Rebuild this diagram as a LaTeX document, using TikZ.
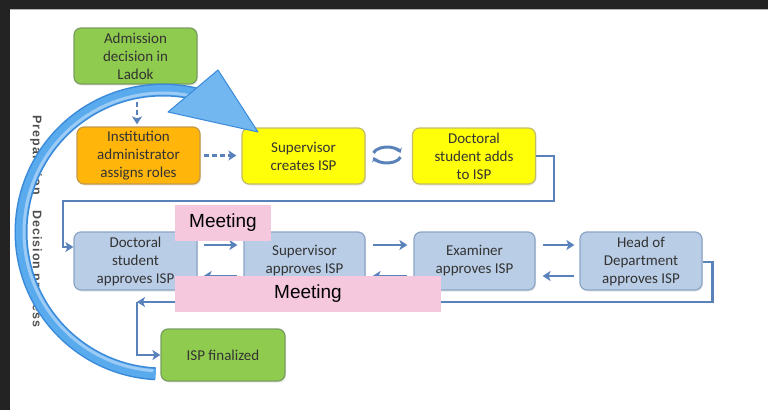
\documentclass[tikz,border=0pt]{standalone}
\usepackage{fontspec}
\setmainfont{Carlito}
\newfontfamily\meetfont{Liberation Sans}
\newfontfamily\sidefont[LetterSpace=8]{Liberation Sans}
\usetikzlibrary{arrows.meta,calc,shadows}

\definecolor{framedark}{HTML}{232323}
\definecolor{boxgreen}{HTML}{8FCB4E}
\definecolor{greenline}{HTML}{7A9E62}
\definecolor{boxorange}{HTML}{FFB50A}
\definecolor{orangeline}{HTML}{C3994A}
\definecolor{boxyellow}{HTML}{FFFF0A}
\definecolor{yellowline}{HTML}{C2BC66}
\definecolor{boxblue}{HTML}{B9CDE6}
\definecolor{blueline}{HTML}{8BA5C6}
\definecolor{connblue}{HTML}{5A82BA}
\definecolor{meetpink}{HTML}{F5C8DD}
\definecolor{bigblue}{HTML}{5AAAEE}
\definecolor{bigblueline}{HTML}{3A8ADA}
\definecolor{boxtext}{HTML}{333333}
\definecolor{sidegrey}{HTML}{4E4E4E}

\begin{document}
\begin{tikzpicture}[x=1pt,y=-1pt,
  box/.style={rounded corners=7pt, line width=1.2pt, minimum width=123pt,
    minimum height=56pt, align=center, text=boxtext,
    font=\fontsize{15}{18}\selectfont, inner sep=2pt,
    drop shadow={opacity=0.18, shadow xshift=1pt, shadow yshift=-1.5pt}},
  gbox/.style={box, fill=boxgreen, draw=greenline},
  obox/.style={box, fill=boxorange, draw=orangeline},
  ybox/.style={box, fill=boxyellow, draw=yellowline},
  bbox/.style={box, fill=boxblue, draw=blueline, minimum height=58pt},
  connline/.style={draw=connblue, line width=2.4pt},
  arr/.style={connline, -{Stealth[length=8pt,width=10pt,inset=2pt]}},
  dasharr/.style={arr, dash pattern=on 5pt off 3pt},
  iconarr/.style={draw=connblue, line width=3pt, -{Stealth[length=4.5pt,width=7pt]}},
  meet/.style={fill=meetpink, inner sep=0pt, text=black,
    font=\meetfont\fontsize{19}{22}\selectfont},
  side/.style={rotate=-90, text=sidegrey, inner sep=0pt,
    font=\sidefont\bfseries\fontsize{12.5}{14}\selectfont}]

\useasboundingbox (0,0) rectangle (768,410);
% screenshot frame
\fill[framedark] (0,0) rectangle (768,9);
\fill[framedark] (0,0) rectangle (10,410);
\draw[gray!60, line width=0.8pt] (10,9.6) -- (768,9.6);

% side labels
\node[side] (prep) at (36,155) {Preparation};
\node[side] (dec) at (36,269) {Decision process};

% boxes
\node[gbox] (adm) at (135.5,56) {Admission\\decision in\\Ladok};
\node[obox, minimum height=57pt] (inst) at (138.5,155.5) {Institution\\administrator\\assigns roles};
\node[ybox] (sup) at (303.5,156) {Supervisor\\creates ISP};
\node[ybox] (dsa) at (474,156) {Doctoral\\student adds\\to ISP};
\node[bbox] (dsp) at (135.5,261) {Doctoral\\student\\approves ISP};
\node[bbox, minimum width=121pt] (sap) at (304.5,261) {Supervisor\\approves ISP};
\node[bbox, minimum width=121pt] (exa) at (474.5,261) {Examiner\\approves ISP};
\node[bbox, minimum width=122pt] (hod) at (641,261) {Head of\\Department\\approves ISP};
\node[gbox, minimum width=124pt, minimum height=52pt] (fin) at (223,355) {ISP finalized};

% preparation connectors
\draw[dasharr, shorten <=1pt, shorten >=2pt] ([xshift=1.5pt]adm.south) -- ([xshift=1.5pt]adm.south |- inst.north);
\draw[dasharr, shorten <=3pt, shorten >=5pt] (inst.east) -- (inst.east -| sup.west);

% cycle icon
\coordinate (cyc) at (387,155);
\draw[iconarr] (cyc) ++(195:14 and 8) arc[start angle=195, end angle=345, x radius=14, y radius=8];
\draw[iconarr] (cyc) ++(15:14 and 8) arc[start angle=15, end angle=165, x radius=14, y radius=8];

% to decision process
\draw[arr] (dsa.east) -- ++(18,0) |- (63,201) |- ([yshift=14pt]dsp.west);

% forward arrows
\draw[arr, shorten <=6pt, shorten >=6pt] ([yshift=16pt]dsp.east) -- ([yshift=16pt]dsp.east -| sap.west);
\draw[arr, shorten <=7pt, shorten >=6pt] ([yshift=16pt]sap.east) -- ([yshift=16pt]sap.east -| exa.west);
\draw[arr, shorten <=7pt, shorten >=5pt] ([yshift=16pt]exa.east) -- ([yshift=16pt]exa.east -| hod.west);
% backward arrows
\draw[arr, shorten <=6pt, shorten >=6pt] ([yshift=-15pt]sap.west) -- ([yshift=-15pt]sap.west -| dsp.east);
\draw[arr, shorten <=6pt, shorten >=7pt] ([yshift=-15pt]exa.west) -- ([yshift=-15pt]exa.west -| sap.east);
\draw[arr, shorten <=5pt, shorten >=7pt] ([yshift=-15pt]hod.west) -- ([yshift=-15pt]hod.west -| exa.east);

% return to finalize
\coordinate (back) at (137,302);
\draw[arr] ([yshift=-1pt]hod.east) -- ++(10,0) |- (back);
\draw[arr] (back) |- (fin.west);

% meeting labels
\node[meet, minimum width=96pt, minimum height=36pt] (m1) at (223,223) {Meeting};
\node[meet, minimum width=266pt, minimum height=36pt] (m2) at (308,294) {Meeting};

% big curved arrow
\coordinate (cc) at (163,232);
\draw[line width=13pt, bigblueline] (cc) ++(93:142) arc[start angle=93, end angle=284, radius=142];
\draw[line width=10pt, bigblue] (cc) ++(93:142) arc[start angle=93, end angle=284, radius=142];
\draw[line width=3pt, bigblue!60!white] (cc) ++(94:139) arc[start angle=94, end angle=283, radius=139];
\draw[fill=bigblue!85!white, draw=bigblueline, line width=1pt, line join=round] (168,112) -- (218,70) -- (258,132) -- cycle;
\end{tikzpicture}
\end{document}
